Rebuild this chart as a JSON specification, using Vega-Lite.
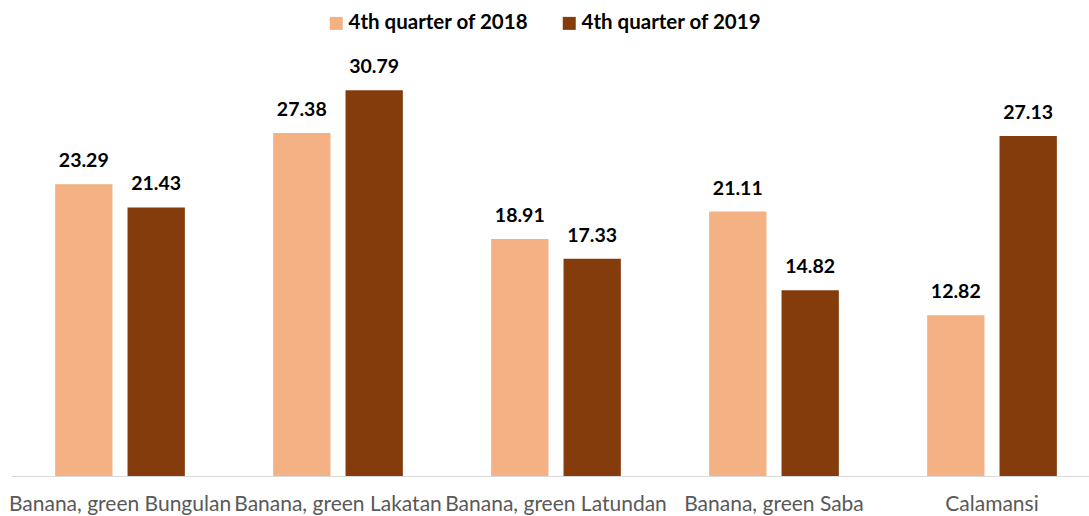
{
  "$schema": "https://vega.github.io/schema/vega-lite/v6.json",
  "autosize": "none",
  "width": 1090,
  "height": 426,
  "padding": {"left": 11, "top": 50, "right": 0, "bottom": 40},
  "background": "white",
  "config": {"view": {"stroke": null}, "font": "Lato"},
  "data": {"values": [
    {"item": "Banana, green Bungulan", "period": "4th quarter of 2018", "price": 23.29},
    {"item": "Banana, green Bungulan", "period": "4th quarter of 2019", "price": 21.43},
    {"item": "Banana, green Lakatan", "period": "4th quarter of 2018", "price": 27.38},
    {"item": "Banana, green Lakatan", "period": "4th quarter of 2019", "price": 30.79},
    {"item": "Banana, green Latundan", "period": "4th quarter of 2018", "price": 18.91},
    {"item": "Banana, green Latundan", "period": "4th quarter of 2019", "price": 17.33},
    {"item": "Banana, green Saba", "period": "4th quarter of 2018", "price": 21.11},
    {"item": "Banana, green Saba", "period": "4th quarter of 2019", "price": 14.82},
    {"item": "Calamansi", "period": "4th quarter of 2018", "price": 12.82},
    {"item": "Calamansi", "period": "4th quarter of 2019", "price": 27.13}
  ]},
  "encoding": {
    "x": {"field": "item", "type": "nominal", "sort": null,
      "scale": {"paddingInner": 0, "paddingOuter": 0},
      "axis": {"title": null, "labelAngle": 0, "labelLimit": 400, "labelOverlap": false, "labelFlush": false,
        "ticks": false, "domainColor": "#d9d9d9", "domainWidth": 1, "labelColor": "#595959",
        "labelFont": "Lato", "labelFontSize": 21, "labelPadding": 17, "labelBaseline": "top"}},
    "xOffset": {"field": "period", "type": "nominal", "scale": {"paddingInner": 0.208, "paddingOuter": 0.61}},
    "y": {"field": "price", "type": "quantitative", "scale": {"domain": [0, 34], "nice": false}, "axis": null}
  },
  "layer": [
    {"mark": {"type": "bar"},
     "encoding": {"color": {"field": "period", "type": "nominal",
       "scale": {"domain": ["4th quarter of 2018", "4th quarter of 2019"], "range": ["#F4B183", "#843C0C"]},
       "legend": {"title": null, "orient": "none", "legendX": 315, "legendY": -37, "direction": "horizontal",
         "symbolType": "square", "symbolSize": 169, "symbolStrokeWidth": 0, "labelFont": "Lato", "labelFontSize": 20.5,
         "labelFontWeight": "bold", "labelColor": "#000000", "columnPadding": 30, "labelOffset": 2, "labelLimit": 300}}}},
    {"mark": {"type": "text", "baseline": "alphabetic", "dy": -17, "fontWeight": "bold", "fontSize": 19.5, "font": "Lato", "color": "#000000"},
     "encoding": {"text": {"field": "price", "type": "quantitative", "format": ".2f"}}}
  ]
}
